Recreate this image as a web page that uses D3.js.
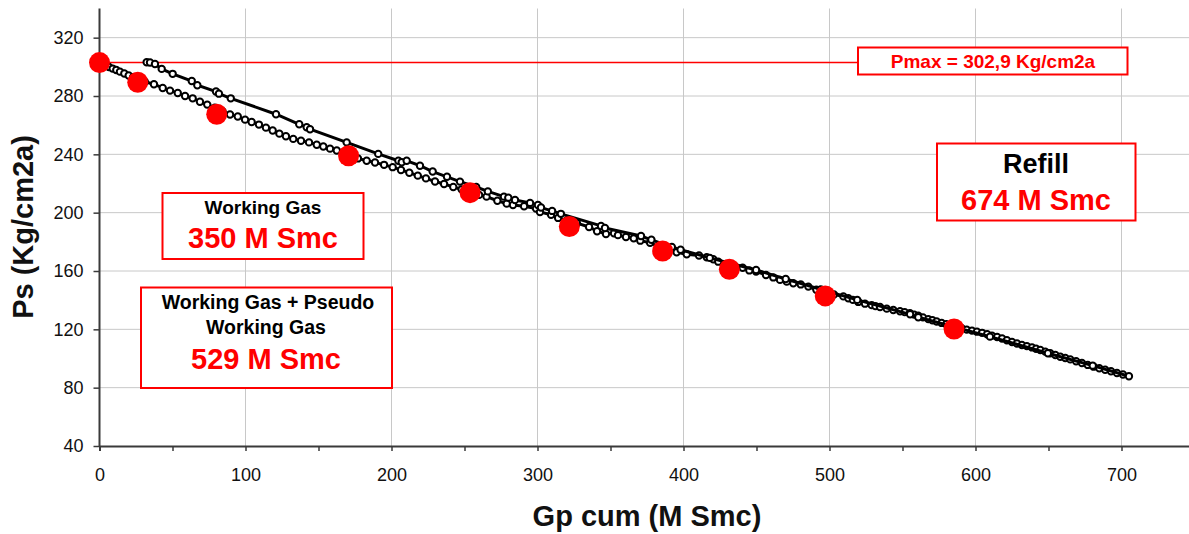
<!DOCTYPE html>
<html>
<head>
<meta charset="utf-8">
<script src="https://cdn.jsdelivr.net/npm/d3@7"></script>
<style>
  html, body { margin: 0; padding: 0; background: #fff; }
  svg { display: block; font-family: "Liberation Sans", Arial, sans-serif; }
</style>
</head>
<body>
<svg id="chart" width="1189" height="534"></svg>
<script>
// Pressure survey points (red markers)
const surveyGp = [0, 26.2, 80.3, 170.6, 253.8, 321.8, 385.7, 431.4, 497.1, 585.3];
const surveyPs = [302.9, 289.4, 267.5, 239.0, 213.7, 190.5, 173.7, 161.2, 142.9, 120.2];

// Dense measured curve (starts at Pmax)
const curveAGp = [0, 2, 4, 6.5, 9, 11.5, 14, 17, 20, 23, 27, 31, 37.3, 43.3, 48.3, 53.6, 58.6, 63.8, 68.8, 73.8,
  79, 84.2, 89.4, 94.7, 99.7, 104.2, 109.2, 114, 118.6, 123.2, 127.7, 132.7, 138, 143.5, 148.8, 153.3, 157.9, 162.5, 167,
  177, 183, 188.7, 194.9, 200.8, 206.5, 212.2, 218, 223.6, 229.8, 236, 242.3, 248, 260, 265.1, 272.5, 278.9, 283.2,
  290.8, 299, 301.7, 309.3, 314.1, 320, 327, 335.3, 340.8, 346.9, 352.4, 355.1, 360.6, 365.9, 370.4, 377.1, 383, 389,
  395.3, 402.2, 410.6, 415.9, 420.4, 423.8, 429, 435, 440.5, 445.1, 449.7, 456.5, 461.5, 466.1, 470.7, 475.2, 480.3,
  485.5, 491, 497, 503, 509.5, 512.9, 516, 519.7, 524.3, 528.9, 531.5, 534.6, 539.2, 543.7, 548.3, 551.5, 555.1, 558,
  560.8, 564, 567.7, 570.5, 573.4, 576.8, 580, 583.5, 587, 590.5, 594, 597.6, 601, 604.5, 608, 611.3, 614.8, 618.2,
  621.5, 625, 628.4, 631.8, 635.2, 638.7, 641.5, 644.4, 647.8, 651.2, 654.7, 658.1, 661.5, 664.9, 668.9, 672.9, 676.9,
  680.9, 684.8, 688.8, 692.8, 696.9, 701];
const curveAPs = [302.9, 301.9, 301, 299.9, 298.8, 297.8, 296.7, 295.4, 294.1, 292.9, 291.2, 289.8, 288.1, 285.5, 283.7,
  282.1, 280, 278.4, 276.1, 274.1, 272, 269.6, 267.3, 265.9, 263.8, 262.2, 260.4, 258.3, 256.3, 254.2, 252.4, 250.6,
  249.3, 248.2, 246.6, 245.4, 243.9, 242.6, 241, 237.2, 235.6, 234.4, 232.8, 231.2, 229.3, 227.4, 225.4, 223.5, 221.4,
  219.7, 217.6, 216, 212.2, 211, 208.2, 206.2, 205.3, 204.4, 202.8, 200.5, 198.6, 196.4, 194.6, 192.8, 190.2, 187.3,
  185.4, 185.9, 184.6, 183.3, 182.4, 180.8, 179.4, 176.8, 174.8, 172.9, 171.5, 170.6, 169.4, 168.1, 166.4, 164.5,
  163.4, 162.2, 160.4, 159.6, 157.3, 155.6, 153.9, 152.7, 151.6, 150.8, 149.3, 147.1, 145.2, 143.9, 142.6, 141.3,
  140.2, 138.8, 137.6, 136.6, 135.9, 135.3, 134.2, 133.3, 132.4, 131.8, 131, 130.1, 129.4, 128.2, 127, 126.2, 125.4,
  124.4, 123.5, 122.6, 121.6, 120.7, 119.8, 119.1, 118.4, 117.6, 116.6, 115.7, 114.7, 113.7, 112.5, 111.3, 110.3,
  109.3, 108.5, 107.6, 106.7, 105.8, 104.7, 103.6, 102.4, 101.2, 100.3, 99.4, 98.1, 96.9, 95.6, 94.4, 93.3, 92.3,
  91.3, 90.1, 89];

// Sparser measured curve (second cycle)
const curveBGp = [32.3, 34.6, 38, 42.6, 50.1, 63.2, 67, 79.8, 81.8, 89.9, 120.9, 136.8, 141.9, 144.2, 169.3, 190.9,
  204.7, 207, 210.4, 219.5, 228.2, 238, 246.9, 258, 266, 277, 280, 284.6, 294.9, 300.3, 302.4, 310, 316, 343.5, 346.2,
  370.9, 378, 392, 398, 418, 449.7, 470, 494, 519, 555.2, 560.8, 609.9, 649.6, 680.3, 705.1];
const curveBPs = [303.1, 303, 301.9, 298.6, 295.2, 290.3, 287.4, 283.1, 281.6, 278.4, 267.5, 260.6, 258.6, 257.2,
  248.2, 240.3, 235.6, 234.6, 235.6, 232.2, 228.2, 224.6, 221.3, 217.6, 214.6, 211, 210.3, 208.7, 206.7, 205.3, 203.5,
  201.2, 199.2, 190.9, 189.5, 184, 181.4, 176.5, 174.6, 169, 160.7, 154.5, 147.4, 140.2, 130.3, 128.3, 115, 103.6,
  95.1, 87.8];

const pMax = 302.9;
const xTicks = [0, 50, 100, 150, 200, 250, 300, 350, 400, 450, 500, 550, 600, 650, 700, 750];
const yTicks = [40, 80, 120, 160, 200, 240, 280, 320];

const svg = d3.select("#chart");
const x = d3.scaleLinear().domain([0, 750]).range([99.5, 1194.5]);
const y = d3.scaleLinear().domain([40, 340]).range([446, 8.5]);

// grid
const grid = svg.append("g");
grid.selectAll("line.v").data(xTicks.filter(d => d % 100 === 0 && d > 0)).join("line")
  .attr("x1", d => x(d)).attr("x2", d => x(d)).attr("y1", y(340)).attr("y2", y(40))
  .attr("stroke", "#c8c8c8").attr("stroke-width", 1);
grid.selectAll("line.h").data(yTicks.filter(d => d > 40)).join("line")
  .attr("x1", x(0)).attr("x2", 1189).attr("y1", d => y(d)).attr("y2", d => y(d))
  .attr("stroke", "#c8c8c8").attr("stroke-width", 1);

// axes
const xAxis = svg.append("g").attr("transform", `translate(0,${y(40)})`)
  .call(d3.axisBottom(x).tickValues(xTicks).tickSize(5).tickPadding(17)
    .tickFormat(d => d % 100 === 0 ? d : ""));
const yAxis = svg.append("g").attr("transform", `translate(${x(0)},0)`)
  .call(d3.axisLeft(y).tickValues(yTicks).tickSize(6).tickPadding(10));
[xAxis, yAxis].forEach(g => {
  g.select(".domain").attr("stroke", "#3a3a3a").attr("stroke-width", 2);
  g.selectAll(".tick line").attr("stroke", "#3a3a3a").attr("stroke-width", 1.5);
  g.selectAll(".tick text").attr("font-size", 18).attr("fill", "#111")
    .attr("font-family", "'Liberation Sans', Arial, sans-serif");
});
yAxis.select(".domain").attr("d", `M0,${y(340)}V${y(40)}`);

// axis titles
svg.append("text").attr("x", 647).attr("y", 526).attr("text-anchor", "middle")
  .attr("font-size", 29).attr("font-weight", "bold").attr("fill", "#111").text("Gp cum (M Smc)");
svg.append("text").attr("transform", "translate(33,227) rotate(-90)").attr("text-anchor", "middle")
  .attr("font-size", 29).attr("font-weight", "bold").attr("fill", "#111").text("Ps (Kg/cm2a)");

// Pmax reference line
svg.append("line").attr("x1", x(0)).attr("x2", 858).attr("y1", y(pMax)).attr("y2", y(pMax))
  .attr("stroke", "#ff0000").attr("stroke-width", 1.5);

// curves
const line = d3.line().x(d => x(d[0])).y(d => y(d[1]));
function drawCurve(gp, ps) {
  const pts = gp.map((g, i) => [g, ps[i]]);
  const g = svg.append("g");
  g.append("path").datum(pts).attr("d", line).attr("fill", "none")
    .attr("stroke", "#000").attr("stroke-width", 3);
  g.selectAll("circle").data(pts).join("circle")
    .attr("cx", d => x(d[0])).attr("cy", d => y(d[1])).attr("r", 3.2)
    .attr("fill", "#fff").attr("stroke", "#000").attr("stroke-width", 2);
}
drawCurve(curveAGp, curveAPs);
drawCurve(curveBGp, curveBPs);

// survey markers
svg.append("g").selectAll("circle").data(surveyGp.map((g, i) => [g, surveyPs[i]])).join("circle")
  .attr("cx", d => x(d[0])).attr("cy", d => y(d[1])).attr("r", 10.5).attr("fill", "#ff0000");

// annotation boxes
function box(x0, y0, x1, y1) {
  svg.append("rect").attr("x", x0).attr("y", y0).attr("width", x1 - x0).attr("height", y1 - y0)
    .attr("fill", "#fff").attr("stroke", "#ff0000").attr("stroke-width", 2);
}
function label(cx, by, size, color, txt) {
  svg.append("text").attr("x", cx).attr("y", by).attr("text-anchor", "middle")
    .attr("font-size", size).attr("font-weight", "bold").attr("fill", color).text(txt);
}

box(858, 47.5, 1127.5, 74.5);
label(993, 68, 19, "#ff0000", `Pmax = ${String(pMax).replace(".", ",")} Kg/cm2a`);

box(937, 143.5, 1135.5, 220.5);
label(1036, 173, 27, "#000", "Refill");
label(1036, 210, 29, "#ff0000", "674 M Smc");

box(162.5, 193, 363.5, 259);
label(263, 213.5, 19, "#000", "Working Gas");
label(263, 248, 29, "#ff0000", "350 M Smc");

box(141, 287.5, 392, 388);
label(268, 308.5, 19.5, "#000", "Working Gas + Pseudo");
label(266, 333.5, 19.5, "#000", "Working Gas");
label(266, 368.5, 29, "#ff0000", "529 M Smc");
</script>
</body>
</html>
